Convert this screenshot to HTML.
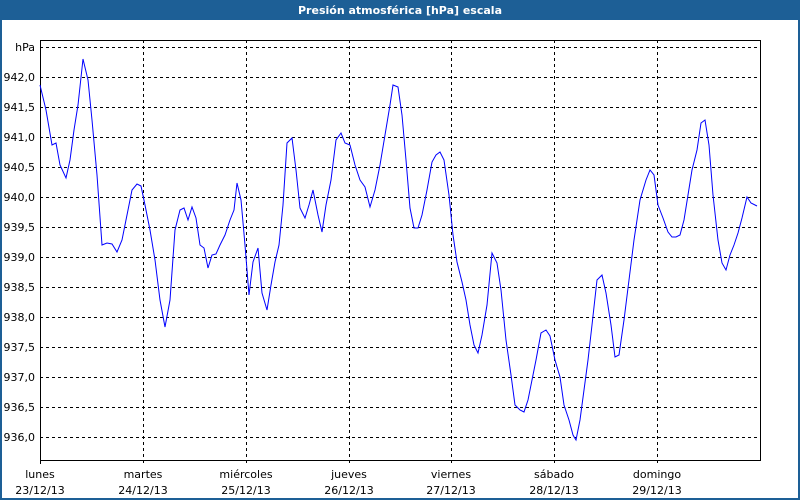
<!DOCTYPE html>
<html><head><style>
html,body{margin:0;padding:0;background:#fff}
svg{display:block}
text{font-family:"DejaVu Sans","Liberation Sans",sans-serif;font-size:11px;fill:#000}
</style></head><body>
<svg width="800" height="500" xmlns="http://www.w3.org/2000/svg">
<rect x="0" y="0" width="800" height="500" fill="#fff"/>
<rect x="0" y="0" width="800" height="20" fill="#1d5f96"/>
<rect x="0" y="0" width="2" height="500" fill="#1d5f96"/>
<rect x="798" y="0" width="2" height="500" fill="#1d5f96"/>
<rect x="0" y="498" width="800" height="2" fill="#1d5f96"/>
<text x="400" y="14" text-anchor="middle" style="fill:#fff;font-weight:bold;font-size:11px">Presión atmosférica [hPa] escala</text>
<g stroke="#000" stroke-dasharray="3,3" stroke-width="1">
<line x1="40" y1="47.5" x2="760" y2="47.5"/>
<line x1="40" y1="77.5" x2="760" y2="77.5"/>
<line x1="40" y1="107.5" x2="760" y2="107.5"/>
<line x1="40" y1="137.5" x2="760" y2="137.5"/>
<line x1="40" y1="167.5" x2="760" y2="167.5"/>
<line x1="40" y1="197.5" x2="760" y2="197.5"/>
<line x1="40" y1="227.5" x2="760" y2="227.5"/>
<line x1="40" y1="257.5" x2="760" y2="257.5"/>
<line x1="40" y1="287.5" x2="760" y2="287.5"/>
<line x1="40" y1="317.5" x2="760" y2="317.5"/>
<line x1="40" y1="347.5" x2="760" y2="347.5"/>
<line x1="40" y1="377.5" x2="760" y2="377.5"/>
<line x1="40" y1="407.5" x2="760" y2="407.5"/>
<line x1="40" y1="437.5" x2="760" y2="437.5"/>
<line x1="143.5" y1="40" x2="143.5" y2="464"/>
<line x1="246.5" y1="40" x2="246.5" y2="464"/>
<line x1="349.5" y1="40" x2="349.5" y2="464"/>
<line x1="451.5" y1="40" x2="451.5" y2="464"/>
<line x1="554.5" y1="40" x2="554.5" y2="464"/>
<line x1="657.5" y1="40" x2="657.5" y2="464"/>
</g>
<rect x="40.5" y="40.5" width="720" height="420" fill="none" stroke="#000"/>
<line x1="40.5" y1="460" x2="40.5" y2="464" stroke="#000"/>
<g text-anchor="end">
<text x="35" y="51">hPa</text>
<text x="35" y="81">942,0</text>
<text x="35" y="111">941,5</text>
<text x="35" y="141">941,0</text>
<text x="35" y="171">940,5</text>
<text x="35" y="201">940,0</text>
<text x="35" y="231">939,5</text>
<text x="35" y="261">939,0</text>
<text x="35" y="291">938,5</text>
<text x="35" y="321">938,0</text>
<text x="35" y="351">937,5</text>
<text x="35" y="381">937,0</text>
<text x="35" y="411">936,5</text>
<text x="35" y="441">936,0</text>
</g>
<g text-anchor="middle">
<text x="40" y="478">lunes</text><text x="40" y="494">23/12/13</text>
<text x="143" y="478">martes</text><text x="143" y="494">24/12/13</text>
<text x="246" y="478">miércoles</text><text x="246" y="494">25/12/13</text>
<text x="349" y="478">jueves</text><text x="349" y="494">26/12/13</text>
<text x="451" y="478">viernes</text><text x="451" y="494">27/12/13</text>
<text x="554" y="478">sábado</text><text x="554" y="494">28/12/13</text>
<text x="657" y="478">domingo</text><text x="657" y="494">29/12/13</text>
</g>
<polyline fill="none" stroke="#0000ff" stroke-width="1" points="40,85 46,110 52,145 56,143 60,165 66,178 70,160 74,130 78,105 83,59 88,80 92,120 97,175 102,245 107,243 112,244 117,252 122,240 127,215 132,190 137,184 141,186 145,205 150,230 155,260 160,300 165,327 170,300 175,230 180,210 184,208 188,220 192,207 196,218 200,245 204,248 208,268 212,255 216,254 220,245 225,235 230,220 234,210 237,183 241,200 245,245 249,295 253,262 258,248 262,293 267,310 271,285 275,262 279,245 283,205 287,143 292,138 296,170 300,208 305,218 309,205 313,190 318,215 322,232 326,205 331,180 336,140 341,133 345,143 350,145 355,165 360,180 365,187 370,207 375,190 380,165 385,135 390,105 393,85 398,87 402,115 406,160 410,208 414,228 418,228 422,215 427,190 432,162 436,155 440,152 444,160 449,195 453,235 457,262 462,282 466,300 470,325 474,345 478,353 482,335 487,305 492,253 497,263 501,290 506,340 511,375 515,405 520,410 524,412 528,400 532,380 536,360 541,333 546,330 550,336 555,360 560,377 564,405 569,420 573,435 576,440 580,420 584,390 588,360 592,325 597,280 602,275 606,293 611,325 615,357 619,355 624,320 629,280 634,240 640,200 646,180 650,170 654,175 658,205 663,218 668,232 672,237 676,237 680,235 684,220 688,195 692,170 697,150 701,123 705,120 709,145 713,195 718,240 722,263 726,270 730,255 734,245 738,233 742,218 747,197 751,203 757,206"/>
</svg>
</body></html>
